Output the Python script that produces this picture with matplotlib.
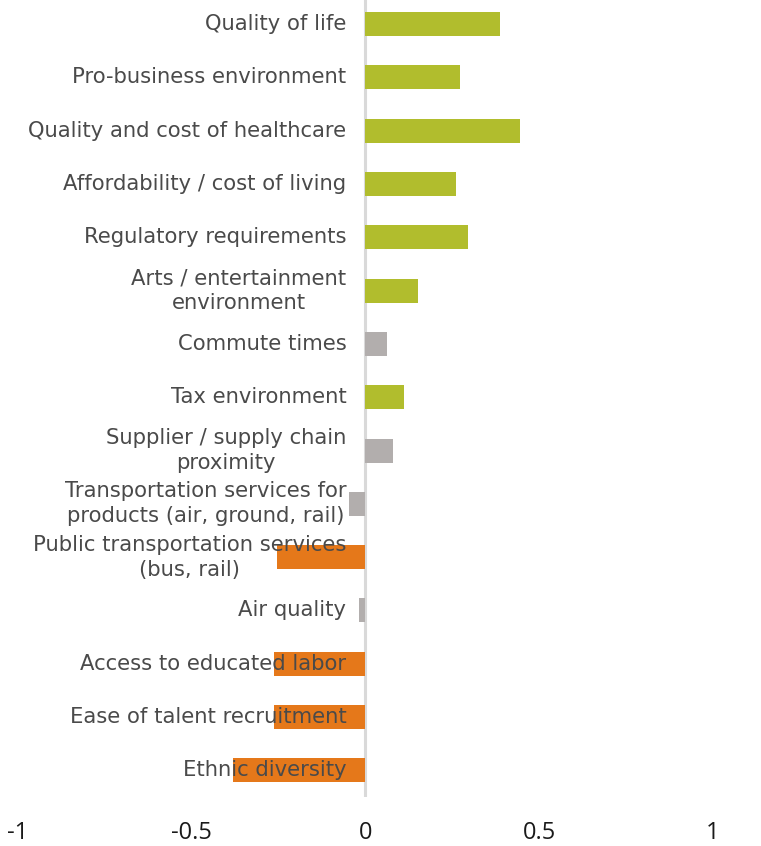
import matplotlib
matplotlib.use("Agg")
import matplotlib.pyplot as plt

# Location factors and their net effect score (positive = attracting, negative = deterring)
factors = [
    "Quality of life",
    "Pro-business environment",
    "Quality and cost of healthcare",
    "Affordability / cost of living",
    "Regulatory requirements",
    "Arts / entertainment\nenvironment",
    "Commute times",
    "Tax environment",
    "Supplier / supply chain\nproximity",
    "Transportation services for\nproducts (air, ground, rail)",
    "Public transportation services\n(bus, rail)",
    "Air quality",
    "Access to educated labor",
    "Ease of talent recruitment",
    "Ethnic diversity",
]
scores = [0.387, 0.271, 0.444, 0.260, 0.294, 0.152, 0.063, 0.111, 0.079,
          -0.048, -0.254, -0.019, -0.263, -0.262, -0.381]
# g = positive, n = neutral, o = negative
groups = ["g", "g", "g", "g", "g", "g", "n", "g", "n", "n", "o", "n", "o", "o", "o"]
xticks = [-1, -0.5, 0, 0.5, 1]
xtick_labels = ["-1", "-0.5", "0", "0.5", "1"]

palette = {"g": "#B1BD2D", "n": "#B2AEAD", "o": "#E5781A"}

fig = plt.figure(figsize=(7.61, 8.46), dpi=100)
W, H = 761, 846
# axes placed in pixel units
left, right = 18, 713
top, bottom = -2.6, 797
ax = fig.add_axes([left / W, (H - bottom) / H, (right - left) / W, (bottom - top) / H])

ypos = list(range(len(factors)))
ax.barh(ypos, scores, height=0.45, color=[palette[g] for g in groups], zorder=2)
ax.axvline(0, color="#D9D9D9", lw=2.2, zorder=1)

for y, label in zip(ypos, factors):
    ax.text(-0.055, y, label, ha="right", va="center", multialignment="center",
            fontsize=15.2, color="#4A4A4A", family="DejaVu Sans", linespacing=1.3, zorder=3)

ax.set_xlim(-1, 1)
ax.set_ylim(len(factors) - 0.5, -0.5)
ax.set_yticks([])
ax.set_xticks(xticks)
ax.set_xticklabels(xtick_labels, fontsize=17, color="#1A1A1A", family="Open Sans")
ax.tick_params(axis="x", length=0, pad=17)
for s in ax.spines.values():
    s.set_visible(False)

fig.savefig("out.png", dpi=100, facecolor="white")
